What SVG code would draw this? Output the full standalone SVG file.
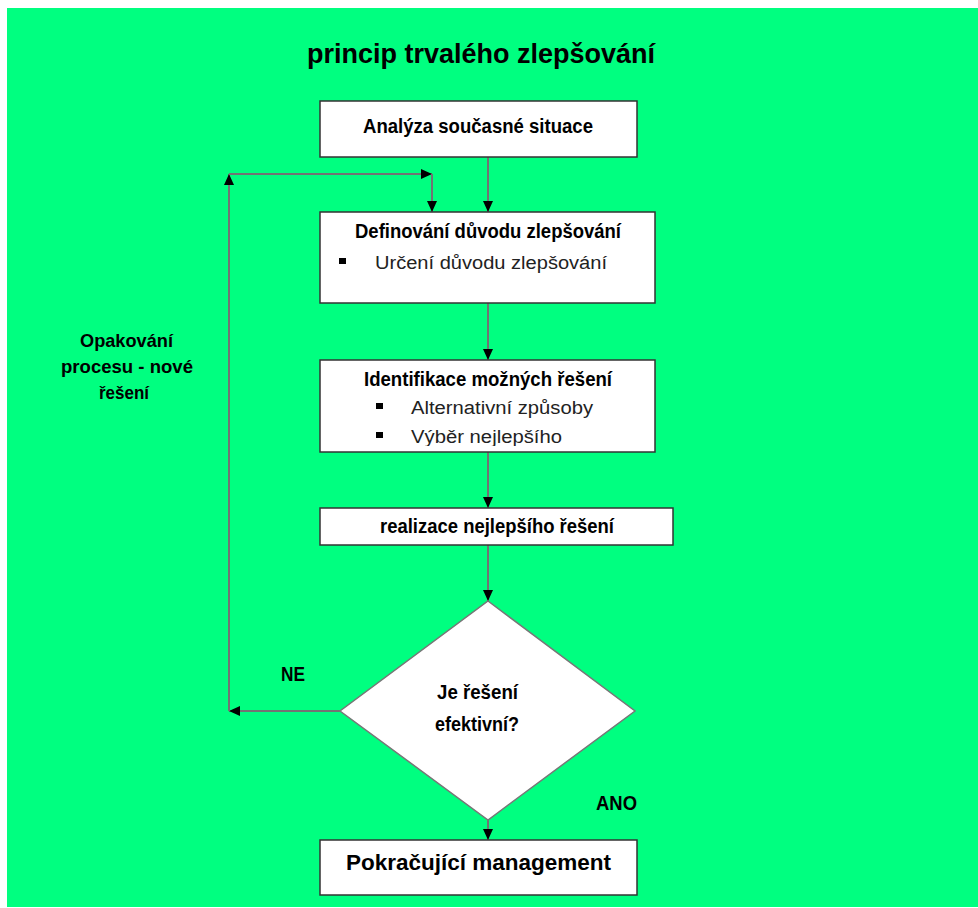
<svg xmlns="http://www.w3.org/2000/svg" width="978" height="908" viewBox="0 0 978 908">
<style>
.box{fill:#fff;stroke:#333;stroke-width:1.5}
.dia{fill:#fff;stroke:#777;stroke-width:1.5}
.t{font-family:"Liberation Sans",Arial,sans-serif;font-weight:bold;fill:#000}
.r{font-family:"Liberation Sans",Arial,sans-serif;font-weight:normal;fill:#222}
.c{fill:none;stroke:#737373;stroke-width:2}
.b{fill:#000}
</style>
<defs>
<marker id="ah" markerUnits="userSpaceOnUse" markerWidth="12" markerHeight="11" refX="11" refY="5" orient="auto">
<path d="M0,0 L11,5 L0,10 z" fill="#000"/>
</marker>
<clipPath id="clip3"><rect x="320" y="360" width="335" height="86"/></clipPath>
</defs>
<rect x="0" y="0" width="978" height="908" fill="#fff"/>
<rect x="7" y="8" width="971" height="899" fill="#00FF80"/>
<text id="title" class="t" x="307" y="63" font-size="28" textLength="348" lengthAdjust="spacingAndGlyphs">princip trvalého zlepšování</text>
<g id="connectors">
<line class="c" x1="488" y1="157" x2="488" y2="212" marker-end="url(#ah)"/>
<line class="c" x1="488" y1="303" x2="488" y2="360" marker-end="url(#ah)"/>
<line class="c" x1="488" y1="452" x2="488" y2="508" marker-end="url(#ah)"/>
<line class="c" x1="488" y1="545" x2="488" y2="601" marker-end="url(#ah)"/>
<line class="c" x1="488" y1="820" x2="488" y2="840" marker-end="url(#ah)"/>
<line class="c" x1="340" y1="711" x2="229" y2="711" marker-end="url(#ah)"/>
<line class="c" x1="229" y1="711" x2="229" y2="174" marker-end="url(#ah)"/>
<line class="c" x1="229" y1="174" x2="432" y2="174" marker-end="url(#ah)"/>
<line class="c" x1="432" y1="174" x2="432" y2="212" marker-end="url(#ah)"/>
<text class="t" x="281" y="681" font-size="20" textLength="24" lengthAdjust="spacingAndGlyphs">NE</text>
<text class="t" x="596" y="810" font-size="20" textLength="41" lengthAdjust="spacingAndGlyphs">ANO</text>
<text class="t" font-size="19">
<tspan x="80" y="347" textLength="93" lengthAdjust="spacingAndGlyphs">Opakování</tspan>
<tspan x="61" y="373" textLength="132" lengthAdjust="spacingAndGlyphs">procesu - nové</tspan>
<tspan x="99" y="399" textLength="50" lengthAdjust="spacingAndGlyphs">řešení</tspan>
</text>
</g>
<g id="n1">
<rect class="box" x="320" y="101" width="317" height="56"/>
<text class="t" x="363" y="133" font-size="20" textLength="230" lengthAdjust="spacingAndGlyphs">Analýza současné situace</text>
</g>
<g id="n2">
<rect class="box" x="320" y="212" width="335" height="91"/>
<text class="t" x="355" y="238" font-size="20" textLength="266" lengthAdjust="spacingAndGlyphs">Definování důvodu zlepšování</text>
<rect class="b" x="339" y="258" width="7" height="6"/>
<text class="r" x="375" y="269" font-size="18" textLength="232" lengthAdjust="spacingAndGlyphs">Určení důvodu zlepšování</text>
</g>
<g id="n3">
<rect class="box" x="320" y="360" width="335" height="92"/>
<text class="t" x="364" y="386" font-size="20" textLength="248" lengthAdjust="spacingAndGlyphs">Identifikace možných řešení</text>
<rect class="b" x="376" y="403" width="7" height="6"/>
<text class="r" x="411" y="414" font-size="18" textLength="182" lengthAdjust="spacingAndGlyphs">Alternativní způsoby</text>
<rect class="b" x="376" y="432" width="7" height="6"/>
<text class="r" x="411" y="443" font-size="18" textLength="151" lengthAdjust="spacingAndGlyphs" clip-path="url(#clip3)">Výběr nejlepšího</text>
</g>
<g id="n4">
<rect class="box" x="320" y="508" width="353" height="37"/>
<text class="t" x="380" y="533" font-size="20" textLength="234" lengthAdjust="spacingAndGlyphs">realizace nejlepšího řešení</text>
</g>
<g id="n5">
<polygon class="dia" points="488,601 635,711 488,820 340,711"/>
<text class="t" x="437" y="699" font-size="20" textLength="81" lengthAdjust="spacingAndGlyphs">Je řešení</text>
<text class="t" x="435" y="731" font-size="20" textLength="84" lengthAdjust="spacingAndGlyphs">efektivní?</text>
</g>
<g id="n6">
<rect class="box" x="320" y="840" width="317" height="55"/>
<text class="t" x="346" y="870" font-size="22" textLength="265" lengthAdjust="spacingAndGlyphs">Pokračující management</text>
</g>
</svg>
